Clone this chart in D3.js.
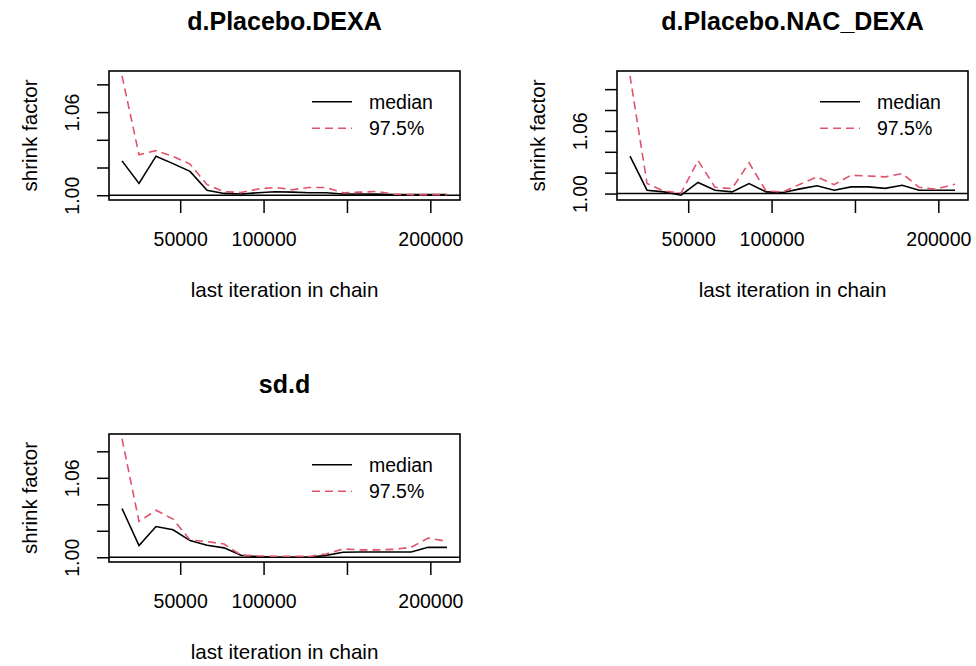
<!DOCTYPE html>
<html>
<head>
<meta charset="utf-8">
<script src="https://cdn.jsdelivr.net/npm/d3@7/dist/d3.min.js"></script>
<style>
  body { margin: 0; background: #fff; }
  svg { display: block; font-family: "Liberation Sans", Arial, sans-serif; }
</style>
</head>
<body>
<div id="chart"></div>
<script>
// x values: last iteration in chain for each bin
const lastIter = [15100, 25300, 35500, 45700, 55900, 66100, 76300, 86500, 96700, 106900,
                  117100, 127300, 137500, 147700, 157900, 168100, 178300, 188500, 198700, 210000];

const panelTitles = ["d.Placebo.DEXA", "d.Placebo.NAC_DEXA", "sd.d"];

// shrink factor
const medianDEXA = [1.0248, 1.0085, 1.0282, 1.0228, 1.0172, 1.0035, 1.0013, 1.0009, 1.0018, 1.0025,
                    1.0022, 1.0018, 1.0018, 1.0009, 1.0009, 1.0008, 1.0004, 1.0004, 1.0004, 1.0004];
const q975DEXA   = [1.0862, 1.0292, 1.0322, 1.0280, 1.0225, 1.0076, 1.0025, 1.0020, 1.0045, 1.0056,
                    1.0040, 1.0056, 1.0056, 1.0018, 1.0022, 1.0027, 1.0007, 1.0004, 1.0004, 1.0004];

const medianNAC  = [1.0358, 1.0032, 1.0016, 0.9984, 1.0106, 1.0032, 1.0016, 1.0096, 1.0016, 1.0010,
                    1.0045, 1.0075, 1.0032, 1.0064, 1.0064, 1.0050, 1.0080, 1.0032, 1.0032, 1.0032];
const q975NAC    = [1.1128, 1.0096, 1.0024, 1.0004, 1.0316, 1.0060, 1.0048, 1.0294, 1.0024, 1.0016,
                    1.0090, 1.0160, 1.0085, 1.0176, 1.0168, 1.0160, 1.0192, 1.0060, 1.0042, 1.0090];

const medianSd   = [1.0368, 1.0088, 1.0232, 1.0208, 1.0126, 1.0090, 1.0071, 1.0015, 1.0005, 1.0000,
                    1.0000, 1.0000, 1.0014, 1.0038, 1.0040, 1.0040, 1.0040, 1.0040, 1.0075, 1.0075];
const q975Sd     = [1.0895, 1.0270, 1.0355, 1.0288, 1.0130, 1.0118, 1.0100, 1.0016, 1.0010, 1.0008,
                    1.0008, 1.0006, 1.0025, 1.0063, 1.0056, 1.0056, 1.0060, 1.0075, 1.0145, 1.0120];

const xTickValues = [50000, 100000, 150000, 200000];
const xTickLabels = ["50000", "100000", "", "200000"];
const yTickValuesA = [1.00, 1.02, 1.04, 1.06, 1.08];
const yTickValuesB = [1.00, 1.02, 1.04, 1.06, 1.08, 1.10];
const yLabelled = [1.00, 1.06];
const legendLabels = ["median", "97.5%"];

const panels = [
    { title: panelTitles[0], median: medianDEXA, upper: q975DEXA, yTicks: yTickValuesA, left: 109, top: 71, h: 129 },
    { title: panelTitles[1], median: medianNAC, upper: q975NAC, yTicks: yTickValuesB, left: 617, top: 71, h: 129 },
    { title: panelTitles[2], median: medianSd, upper: q975Sd, yTicks: yTickValuesA, left: 109, top: 434, h: 128 }
];

const W = 976, H = 666;
const boxW = 351;
const red = "#DF536B";

const svg = d3.select("#chart").append("svg")
    .attr("width", W)
    .attr("height", H);

// R style 4% padding on the range
function padded(ext) {
    const p = (ext[1] - ext[0]) * 0.04;
    return [ext[0] - p, ext[1] + p];
}

panels.forEach(p => {
    const g = svg.append("g").attr("transform", `translate(${p.left},${p.top})`);

    const x = d3.scaleLinear()
        .domain(padded(d3.extent(lastIter)))
        .range([0, boxW]);

    const y = d3.scaleLinear()
        .domain(padded(d3.extent([1].concat(p.median, p.upper))))
        .range([p.h, 0]);

    // x axis
    const xAxis = g.append("g")
        .attr("transform", `translate(0,${p.h})`)
        .call(d3.axisBottom(x)
            .tickValues(xTickValues)
            .tickFormat((d, i) => xTickLabels[i])
            .tickSize(13)
            .tickPadding(19));
    xAxis.select(".domain").remove();
    xAxis.selectAll("line").attr("stroke", "#000").attr("stroke-width", 1.5);
    xAxis.selectAll("text")
        .attr("fill", "#000")
        .style("font-size", "19.5px");

    // y axis, labels turned like R's las = 0
    const yAxis = g.append("g")
        .call(d3.axisLeft(y)
            .tickValues(p.yTicks)
            .tickFormat("")
            .tickSize(12));
    yAxis.select(".domain").remove();
    yAxis.selectAll("line").attr("stroke", "#000").attr("stroke-width", 1.5);
    yAxis.selectAll(".tick")
        .filter(d => yLabelled.some(v => Math.abs(v - d) < 1e-9))
        .append("text")
        .attr("transform", "rotate(-90)")
        .attr("x", 0)
        .attr("y", -30)
        .attr("text-anchor", "middle")
        .attr("fill", "#000")
        .style("font-size", "19.5px")
        .text(d => d3.format(".2f")(d));

    // reference line at 1
    g.append("line")
        .attr("x1", 0).attr("x2", boxW)
        .attr("y1", y(1)).attr("y2", y(1))
        .attr("stroke", "#000")
        .attr("stroke-width", 1.4);

    const line = d3.line()
        .x((d, i) => x(lastIter[i]))
        .y(d => y(d));

    g.append("path")
        .datum(p.median)
        .attr("fill", "none")
        .attr("stroke", "#000")
        .attr("stroke-width", 1.6)
        .attr("d", line);

    g.append("path")
        .datum(p.upper)
        .attr("fill", "none")
        .attr("stroke", red)
        .attr("stroke-width", 1.6)
        .attr("stroke-dasharray", "8,5")
        .attr("d", line);

    // box
    g.append("rect")
        .attr("width", boxW)
        .attr("height", p.h)
        .attr("fill", "none")
        .attr("stroke", "#000")
        .attr("stroke-width", 1.6);

    // legend (no frame)
    const leg = g.append("g").attr("transform", `translate(${boxW},0)`);
    [0, 1].forEach(i => {
        const ly = 30.7 + i * 26.6;
        leg.append("line")
            .attr("x1", -148).attr("x2", -108)
            .attr("y1", ly).attr("y2", ly)
            .attr("stroke", i === 0 ? "#000" : red)
            .attr("stroke-width", 1.6)
            .attr("stroke-dasharray", i === 0 ? null : "8,5");
        leg.append("text")
            .attr("x", -91)
            .attr("y", ly + 7)
            .attr("fill", "#000")
            .style("font-size", "19.5px")
            .text(legendLabels[i]);
    });

    // titles
    g.append("text")
        .attr("x", boxW / 2)
        .attr("y", -41)
        .attr("text-anchor", "middle")
        .attr("font-weight", "bold")
        .style("font-size", "25px")
        .text(p.title);

    g.append("text")
        .attr("x", boxW / 2)
        .attr("y", p.h + 97)
        .attr("text-anchor", "middle")
        .style("font-size", "20.6px")
        .text("last iteration in chain");

    g.append("text")
        .attr("transform", `translate(-72,${p.h / 2}) rotate(-90)`)
        .attr("text-anchor", "middle")
        .style("font-size", "20.6px")
        .text("shrink factor");
});
</script>
</body>
</html>
